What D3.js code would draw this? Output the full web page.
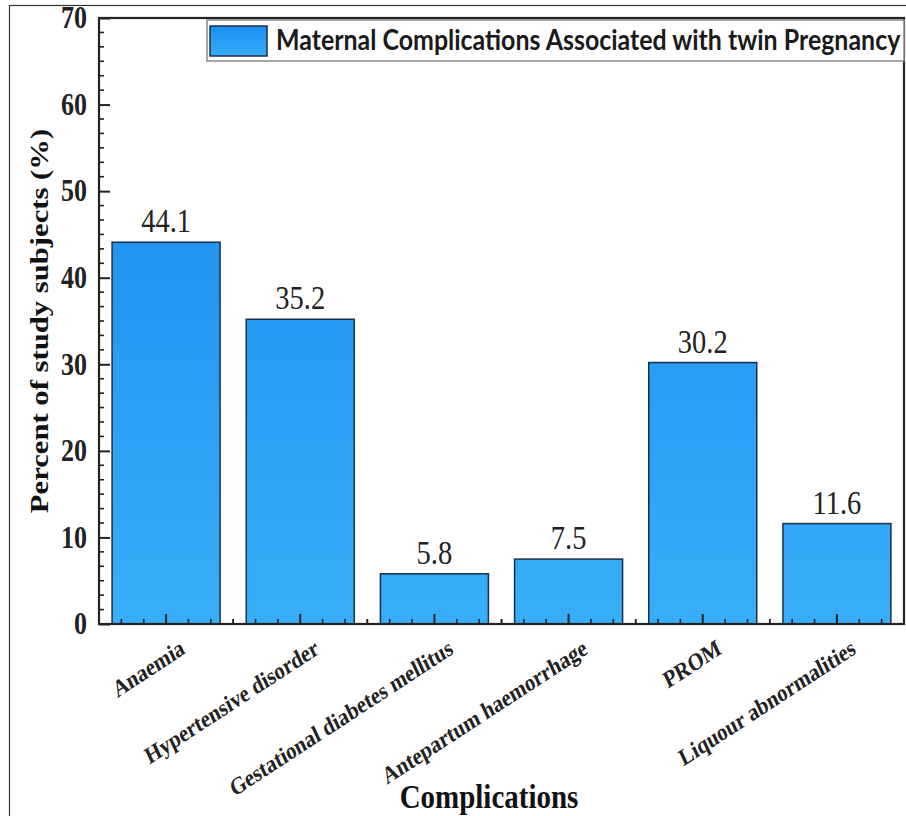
<!DOCTYPE html>
<html>
<head>
<meta charset="utf-8">
<script src="https://cdn.jsdelivr.net/npm/d3@7"></script>
<style>
html,body{margin:0;padding:0;background:#fff;}
svg{display:block;}
</style>
</head>
<body>
<svg id="chart" width="906" height="816"></svg>
<script>
const categories = ["Anaemia","Hypertensive disorder","Gestational diabetes mellitus","Antepartum haemorrhage","PROM","Liquour abnormalities"];
const values = [44.1, 35.2, 5.8, 7.5, 30.2, 11.6];
const valueLabels = ["44.1","35.2","5.8","7.5","30.2","11.6"];
const yTicks = [0,10,20,30,40,50,60,70];
const legendLabel = "Maternal Complications Associated with twin Pregnancy";
const xTitle = "Complications";
const yTitle = "Percent of study subjects (%)";

const svg = d3.select("#chart");
const m = {left:99, top:18, right:904, bottom:624};
const serif = "'Liberation Serif','Times New Roman',serif";
const S = 1.18; // vertical stretch of the original figure

// outer frame
svg.append("rect").attr("x",9.5).attr("y",5.5).attr("width",1000).attr("height",1000)
  .attr("fill","none").attr("stroke","#333").attr("stroke-width",1.2);

const defs = svg.append("defs");
const grad = defs.append("linearGradient").attr("id","barGrad")
  .attr("gradientUnits","userSpaceOnUse").attr("x1",0).attr("x2",0).attr("y1",m.top).attr("y2",m.bottom);
grad.append("stop").attr("offset","0%").attr("stop-color","#1585ee");
grad.append("stop").attr("offset","100%").attr("stop-color","#38aef8");
const grad2 = defs.append("linearGradient").attr("id","legGrad").attr("x1",0).attr("x2",0).attr("y1",0).attr("y2",1);
grad2.append("stop").attr("offset","0%").attr("stop-color","#1a8ff0");
grad2.append("stop").attr("offset","100%").attr("stop-color","#35acf7");

const x = d3.scaleBand().domain(categories).range([m.left,m.right]).paddingInner(0.195).paddingOuter(0.0975);
const y = d3.scaleLinear().domain([0,70]).range([m.bottom,m.top]);

// bars
svg.append("g").selectAll("rect").data(values).join("rect")
  .attr("x",(d,i)=>x(categories[i]))
  .attr("y",d=>y(d))
  .attr("width",x.bandwidth())
  .attr("height",d=>y(0)-y(d))
  .attr("fill","url(#barGrad)")
  .attr("stroke","#1c2f4a").attr("stroke-width",1.5);

// value labels
svg.append("g").selectAll("text").data(values).join("text")
  .attr("transform",(d,i)=>`translate(${x(categories[i])+x.bandwidth()/2},${y(d)-10}) scale(1,${S})`)
  .attr("text-anchor","middle")
  .attr("font-family",serif).attr("font-size",28.5).attr("fill","#222")
  .text((d,i)=>valueLabels[i]);

// y axis
const yAxis = d3.axisLeft(y).tickValues(yTicks).tickSize(-11).tickPadding(12).tickFormat(d3.format("d"));
const ya = svg.append("g").attr("transform",`translate(${m.left},0)`).call(yAxis);
ya.select(".domain").remove();
ya.selectAll("line").attr("stroke","#222").attr("stroke-width",2);
ya.selectAll("text").attr("font-family",serif).attr("font-size",26).attr("font-weight","bold").attr("fill","#222")
  .attr("transform",`scale(1,${S})`);
// y minor ticks
const yMinor = [];
for (let i=0;i<70;i+=10){ for (let k=1;k<6;k++) yMinor.push(i+k*10/6); }
svg.append("g").selectAll("line").data(yMinor).join("line")
  .attr("x1",m.left).attr("x2",m.left+5).attr("y1",d=>y(d)).attr("y2",d=>y(d))
  .attr("stroke","#222").attr("stroke-width",1.6);

// x axis ticks (inward)
const step = x.step();
const xMajor = categories.map(c=>x(c)+x.bandwidth()/2);
svg.append("g").selectAll("line").data(xMajor).join("line")
  .attr("x1",d=>d).attr("x2",d=>d).attr("y1",m.bottom).attr("y2",m.bottom-10)
  .attr("stroke","#222").attr("stroke-width",2);
const xMinor = [];
xMajor.forEach((c,i)=>{ for (let k=-3;k<=3;k++){ if(k!==0) xMinor.push(c+k*step/6);} });
svg.append("g").selectAll("line").data(xMinor.filter(d=>d>m.left+2 && d<m.right-2)).join("line")
  .attr("x1",d=>d).attr("x2",d=>d).attr("y1",m.bottom).attr("y2",m.bottom-5)
  .attr("stroke","#222").attr("stroke-width",1.6);

// x tick labels
svg.append("g").selectAll("text").data(categories).join("text")
  .attr("transform",c=>`translate(${x(c)+x.bandwidth()/2+20},${m.bottom+29}) scale(1,${S}) rotate(-29)`)
  .attr("text-anchor","end")
  .attr("font-family",serif).attr("font-size",20.5).attr("font-weight","bold").attr("fill","#222")
  .text(c=>c);

// plot frame
svg.append("rect").attr("x",m.left).attr("y",m.top).attr("width",m.right-m.left).attr("height",m.bottom-m.top)
  .attr("fill","none").attr("stroke","#222").attr("stroke-width",2.2);

// titles
svg.append("text").attr("transform",`translate(489,808) scale(1,${S})`).attr("text-anchor","middle")
  .attr("font-family",serif).attr("font-size",29).attr("font-weight","bold").attr("fill","#111")
  .text(xTitle);
svg.append("text").attr("transform",`translate(48,${(m.top+m.bottom)/2}) rotate(-90) scale(${S},1)`).attr("text-anchor","middle")
  .attr("font-family",serif).attr("font-size",26).attr("font-weight","bold").attr("fill","#111")
  .text(yTitle);

// legend
const lg = svg.append("g");
lg.append("rect").attr("x",207).attr("y",20).attr("width",m.right-207).attr("height",41)
  .attr("fill","#fff").attr("stroke","#888").attr("stroke-width",1.5);
lg.append("rect").attr("x",210).attr("y",26).attr("width",57).attr("height",30)
  .attr("fill","url(#legGrad)").attr("stroke","#1c2f4a").attr("stroke-width",1.5);
const lt = lg.append("text").attr("transform",`translate(276,50) scale(1,1.12)`)
  .attr("font-family","Lato,'Open Sans',sans-serif").attr("font-size",22).attr("font-weight","bold").attr("fill","#1a1a1a")
  .text(legendLabel);
const w = lt.node().getComputedTextLength();
lt.attr("font-size",22*624/w);
</script>
</body>
</html>
